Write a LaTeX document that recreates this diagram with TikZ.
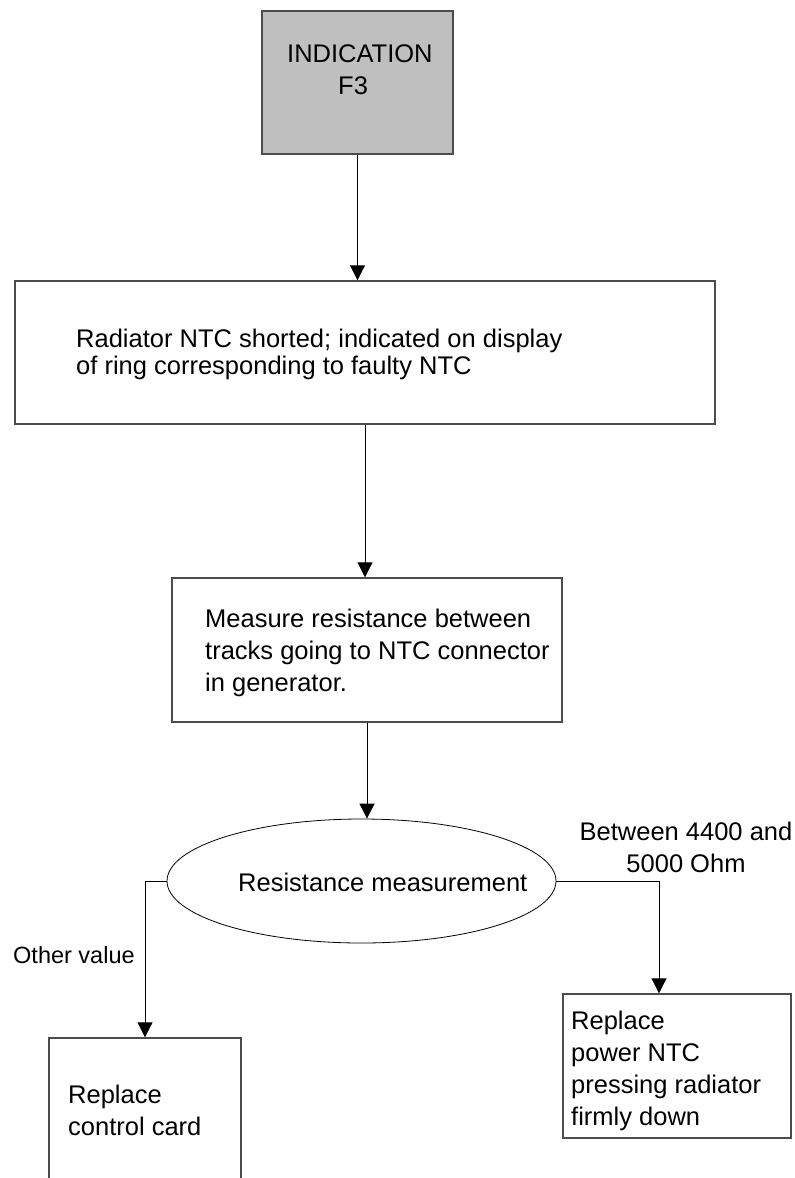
\documentclass[tikz,border=0pt]{standalone}
\usepackage{fontspec}
\setmainfont{Liberation Sans}
\usetikzlibrary{arrows.meta,shapes.geometric}

\begin{document}
\begin{tikzpicture}[x=1pt, y=-1pt,
    box/.style={draw=black!70, line width=1.4pt, rectangle, inner sep=0pt},
    txt/.style={inner sep=0pt, align=left, font=\fontsize{25.5}{32}\selectfont},
    flow/.style={draw, line width=0.9pt, -{Triangle[length=15pt,width=15pt]}}]
  \useasboundingbox (0,0) rectangle (795,1178);
  \clip (0,0) rectangle (795,1178);

  % boxes
  \node[box, fill=black!25, minimum width=191pt, minimum height=143pt] (ind) at (357.5,82.5) {};
  \node[box, minimum width=700pt, minimum height=143pt] (box2) at (365,352.5) {};
  \node[box, minimum width=390pt, minimum height=144pt] (box3) at (367,650) {};
  \node[draw, ellipse, line width=0.8pt, inner sep=0pt,
        minimum width=389pt, minimum height=124pt] (ell) at (361.5,881) {};
  \node[box, minimum width=192pt, minimum height=200pt] (box4) at (145,1138) {};
  \node[box, minimum width=228pt, minimum height=144pt] (box5) at (677,1066) {};

  % texts
  \node[txt, anchor=north west] (indtxt) at (287,44.7) {INDICATION\\\hspace*{51pt}F3};
  \node[txt, anchor=north west, font=\fontsize{25.5}{27}\selectfont] (t2) at (76,328.4)
    {Radiator NTC shorted; indicated on display\\of ring corresponding to faulty NTC};
  \node[txt, anchor=north west] (t3) at (205,608.4)
    {Measure resistance between\\tracks going to NTC connector\\in generator.};
  \node[txt, anchor=base west] (tell) at (238,891) {Resistance measurement};
  \node[txt, anchor=north, align=center] (tok) at (686,821.4) {Between 4400 and\\5000 Ohm};
  \node[txt, anchor=base west, font=\fontsize{23.5}{28}\selectfont] (tother) at (13,963) {Other value};
  \node[txt, anchor=north west] (t4) at (68,1084.4) {Replace\\control card};
  \node[txt, anchor=north west] (t5) at (571,1010.4)
    {Replace\\power NTC\\pressing radiator\\firmly down};

  % connectors
  \draw[flow] (ind.south) -- (ind.south |- box2.north);
  \draw[flow] (box2.south) -- (box2.south |- box3.north);
  \draw[flow] (box3.south) -- (box3.south |- ell.north);
  \draw[flow] (ell.west) -| (box4.north);
  \draw[flow] (ell.east) -| ([xshift=-18pt]box5.north);
\end{tikzpicture}
\end{document}
